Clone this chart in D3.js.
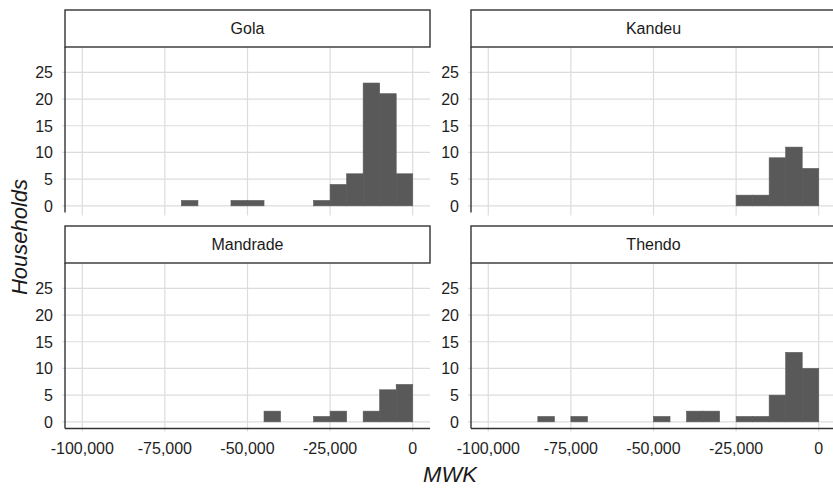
<!DOCTYPE html>
<html lang="en">
<head>
    <meta charset="UTF-8">
    <title>Households by MWK</title>
    <style>
        body { margin: 0; background: #fff; }
        svg { display: block; font-family: "Liberation Sans", Arial, sans-serif; }
        .grid line { stroke: #dcdcdc; stroke-width: 1.2px; }
        .tick-label { font-size: 16px; fill: #1e1e1e; }
        .strip-text { font-size: 16px; fill: #1a1a1a; }
        .axis-title { font-size: 22px; font-style: italic; fill: #1a1a1a; }
    </style>
    <script src="https://d3js.org/d3.v7.min.js"></script>
</head>
<body>
    <svg width="833" height="489"></svg>
    <script>
        // Facets, in reading order
        const villages = ["Gola", "Kandeu", "Mandrade", "Thendo"];

        // Histogram bins: lower edge of each 5,000 MWK bin and its count
        const binWidth = 5000;
        const golaStarts = [-70000, -55000, -50000, -30000, -25000, -20000, -15000, -10000, -5000];
        const golaCounts = [1, 1, 1, 1, 4, 6, 23, 21, 6];
        const kandeuStarts = [-25000, -20000, -15000, -10000, -5000];
        const kandeuCounts = [2, 2, 9, 11, 7];
        const mandradeStarts = [-45000, -30000, -25000, -15000, -10000, -5000];
        const mandradeCounts = [2, 1, 2, 2, 6, 7];
        const thendoStarts = [-85000, -75000, -50000, -40000, -35000, -25000, -20000, -15000, -10000, -5000];
        const thendoCounts = [1, 1, 1, 2, 2, 1, 1, 5, 13, 10];

        // Axis ticks
        const xTicks = [-100000, -75000, -50000, -25000, 0];
        const yTicks = [0, 5, 10, 15, 20, 25];

        const binsByVillage = {
            Gola: golaStarts.map((s, i) => ({ x0: s, x1: s + binWidth, n: golaCounts[i] })),
            Kandeu: kandeuStarts.map((s, i) => ({ x0: s, x1: s + binWidth, n: kandeuCounts[i] })),
            Mandrade: mandradeStarts.map((s, i) => ({ x0: s, x1: s + binWidth, n: mandradeCounts[i] })),
            Thendo: thendoStarts.map((s, i) => ({ x0: s, x1: s + binWidth, n: thendoCounts[i] }))
        };

        // Layout
        const panelW = 365, panelH = 165.5, stripH = 37;
        const colX = [65, 471];
        const rowY = [47, 263];

        const x = d3.scaleLinear().domain([-105230, 5230]).range([0, panelW]);
        const y = d3.scaleLinear().domain([-1.25, 29.75]).range([panelH, 0]);

        const svg = d3.select("svg");
        // plain hyphen for negatives, like the original
        const fmt = d => d3.format(",")(d).replace("\u2212", "-");

        villages.forEach((v, i) => {
            const col = i % 2, row = Math.floor(i / 2);
            const g = svg.append("g")
                .attr("transform", `translate(${colX[col]},${rowY[row]})`);

            // grid
            const grid = g.append("g").attr("class", "grid");
            grid.selectAll(".gx").data(xTicks).enter().append("line")
                .attr("x1", d => x(d)).attr("x2", d => x(d))
                .attr("y1", 0).attr("y2", panelH + 3);
            grid.selectAll(".gy").data(yTicks).enter().append("line")
                .attr("x1", -3).attr("x2", panelW)
                .attr("y1", d => y(d)).attr("y2", d => y(d));

            // bars
            g.selectAll("rect.bar").data(binsByVillage[v]).enter().append("rect")
                .attr("class", "bar")
                .attr("x", d => x(d.x0))
                .attr("width", d => x(d.x1) - x(d.x0))
                .attr("y", d => y(d.n))
                .attr("height", d => y(0) - y(d.n))
                .attr("fill", "#595959")
                .attr("stroke", "#595959")
                .attr("stroke-width", 0.6);

            // axis lines
            g.append("line")
                .attr("x1", 0).attr("x2", 0).attr("y1", 0).attr("y2", panelH)
                .attr("stroke", "#333").attr("stroke-width", 1.4);
            if (row === 1) {
                g.append("line")
                    .attr("x1", 0).attr("x2", panelW).attr("y1", panelH).attr("y2", panelH)
                    .attr("stroke", "#333").attr("stroke-width", 1.4);
                g.selectAll(".xl").data(xTicks).enter().append("text")
                    .attr("class", "tick-label")
                    .attr("x", d => x(d))
                    .attr("y", panelH + 25)
                    .attr("text-anchor", "middle")
                    .text(d => fmt(d));
            }

            // y tick labels
            g.selectAll(".yl").data(yTicks).enter().append("text")
                .attr("class", "tick-label")
                .attr("x", -12)
                .attr("y", d => y(d))
                .attr("dy", "0.36em")
                .attr("text-anchor", "end")
                .text(d => d);

            // strip
            g.append("rect")
                .attr("x", 0).attr("y", -stripH)
                .attr("width", panelW).attr("height", stripH)
                .attr("fill", "#fff").attr("stroke", "#333").attr("stroke-width", 1.4);
            g.append("text")
                .attr("class", "strip-text")
                .attr("x", panelW / 2)
                .attr("y", -stripH / 2)
                .attr("dy", "0.36em")
                .attr("text-anchor", "middle")
                .text(v);
        });

        // axis titles
        svg.append("text")
            .attr("class", "axis-title")
            .attr("transform", "translate(27,237) rotate(-90)")
            .attr("text-anchor", "middle")
            .text("Households");

        svg.append("text")
            .attr("class", "axis-title")
            .attr("x", 450)
            .attr("y", 482)
            .attr("text-anchor", "middle")
            .text("MWK");
    </script>
</body>
</html>
